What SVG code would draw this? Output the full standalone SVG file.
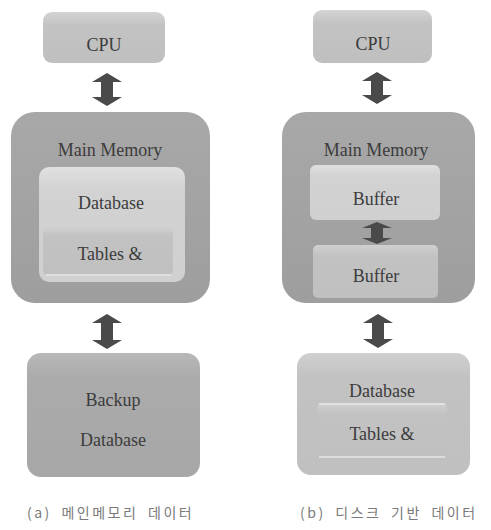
<svg xmlns="http://www.w3.org/2000/svg" width="491" height="530" viewBox="0 0 491 530">
  <defs>
    <linearGradient id="gCpu" x1="0" y1="0" x2="0" y2="1">
      <stop offset="0" stop-color="#d4d4d4"/>
      <stop offset="0.25" stop-color="#c3c3c3"/>
      <stop offset="1" stop-color="#bfbfbf"/>
    </linearGradient>
    <linearGradient id="gMem" x1="0" y1="0" x2="0" y2="1">
      <stop offset="0" stop-color="#a8a8a8"/>
      <stop offset="1" stop-color="#9e9e9e"/>
    </linearGradient>
    <linearGradient id="gLight" x1="0" y1="0" x2="0" y2="1">
      <stop offset="0" stop-color="#e0e0e0"/>
      <stop offset="0.2" stop-color="#d2d2d2"/>
      <stop offset="1" stop-color="#d0d0d0"/>
    </linearGradient>
    <linearGradient id="gMid" x1="0" y1="0" x2="0" y2="1">
      <stop offset="0" stop-color="#d0d0d0"/>
      <stop offset="0.2" stop-color="#c2c2c2"/>
      <stop offset="1" stop-color="#c0c0c0"/>
    </linearGradient>
    <linearGradient id="gBackup" x1="0" y1="0" x2="0" y2="1">
      <stop offset="0" stop-color="#b8b8b8"/>
      <stop offset="0.2" stop-color="#ababab"/>
      <stop offset="1" stop-color="#a7a7a7"/>
    </linearGradient>
  </defs>
  <style>
    .lbl { font-family: "Liberation Serif", "Times New Roman", serif; font-size: 18px; fill: #3c3c3c; text-anchor: middle; }
    .cap { font-family: "Noto Sans CJK KR", "Noto Sans", sans-serif; font-size: 14px; fill: #7a7a7a; letter-spacing: 2.5px; word-spacing: 4px; }
    .arrow { fill: #4a4a4a; }
    .edge { fill: none; stroke: #e6e6e6; stroke-width: 1.5; }
  </style>

  <rect width="491" height="530" fill="#ffffff"/>

  <!-- (a) main-memory database -->
  <g id="cpu-a">
    <rect x="43" y="12" width="122" height="51" rx="9" fill="url(#gCpu)"/>
    <text class="lbl" x="104" y="51">CPU</text>
  </g>
  <g id="memory-a">
    <rect x="11" y="112" width="199" height="191" rx="24" fill="url(#gMem)"/>
    <text class="lbl" x="110" y="156">Main Memory</text>
  </g>
  <g id="database-a">
    <rect x="39" y="167" width="146" height="115" rx="10" fill="url(#gLight)"/>
    <text class="lbl" x="111" y="209">Database</text>
  </g>
  <g id="tables-a">
    <rect x="43" y="227" width="130" height="48" rx="5" fill="url(#gMid)"/>
    <path class="edge" d="M46 275 H171"/>
    <text class="lbl" x="110" y="260">Tables &amp;</text>
  </g>
  <g id="backup-a">
    <rect x="27" y="353" width="173" height="124" rx="14" fill="url(#gBackup)"/>
    <text class="lbl" x="113" y="406">Backup</text>
    <text class="lbl" x="113" y="446">Database</text>
  </g>

  <!-- (b) disk-based database -->
  <g id="cpu-b">
    <rect x="313" y="10" width="119" height="53" rx="9" fill="url(#gCpu)"/>
    <text class="lbl" x="373" y="50">CPU</text>
  </g>
  <g id="memory-b">
    <rect x="282" y="112" width="193" height="191" rx="24" fill="url(#gMem)"/>
    <text class="lbl" x="376" y="156">Main Memory</text>
  </g>
  <g id="buffer-b1">
    <rect x="310" y="165" width="130" height="55" rx="6" fill="url(#gLight)"/>
    <text class="lbl" x="376" y="205">Buffer</text>
  </g>
  <g id="buffer-b2">
    <rect x="313" y="245" width="125" height="53" rx="5" fill="url(#gMid)"/>
    <text class="lbl" x="376" y="282">Buffer</text>
  </g>
  <g id="database-b">
    <rect x="297" y="353" width="173" height="122" rx="14" fill="url(#gMid)"/>
    <text class="lbl" x="382" y="397">Database</text>
  </g>
  <g id="tables-b">
    <rect x="317" y="403" width="130" height="54" rx="5" fill="url(#gMid)"/>
    <path class="edge" d="M319 404 H445"/>
    <path class="edge" d="M319 457 H445"/>
    <text class="lbl" x="382" y="440">Tables &amp;</text>
  </g>

  <!-- two-way transfer arrows -->
  <g id="connectors">
    <path class="arrow" d="M107 73 L122 82 L113 82 L113 97 L122 97 L107 106 L92 97 L101 97 L101 82 L92 82 Z"/>
    <path class="arrow" d="M107 314 L122 323 L113 323 L113 340 L122 340 L107 349 L92 340 L101 340 L101 323 L92 323 Z"/>
    <path class="arrow" d="M377 72 L392 81 L383 81 L383 95 L392 95 L377 104 L362 95 L371 95 L371 81 L362 81 Z"/>
    <path class="arrow" d="M377 222 L392 228 L383 228 L383 238 L392 238 L377 244 L362 238 L371 238 L371 228 L362 228 Z"/>
    <path class="arrow" d="M378 314 L393 323 L384 323 L384 339 L393 339 L378 348 L363 339 L372 339 L372 323 L363 323 Z"/>
  </g>

  <!-- captions -->
  <text class="cap" x="27" y="518">(a) 메인메모리 데이터</text>
  <text class="cap" x="300" y="518">(b) 디스크 기반 데이터</text>
</svg>
